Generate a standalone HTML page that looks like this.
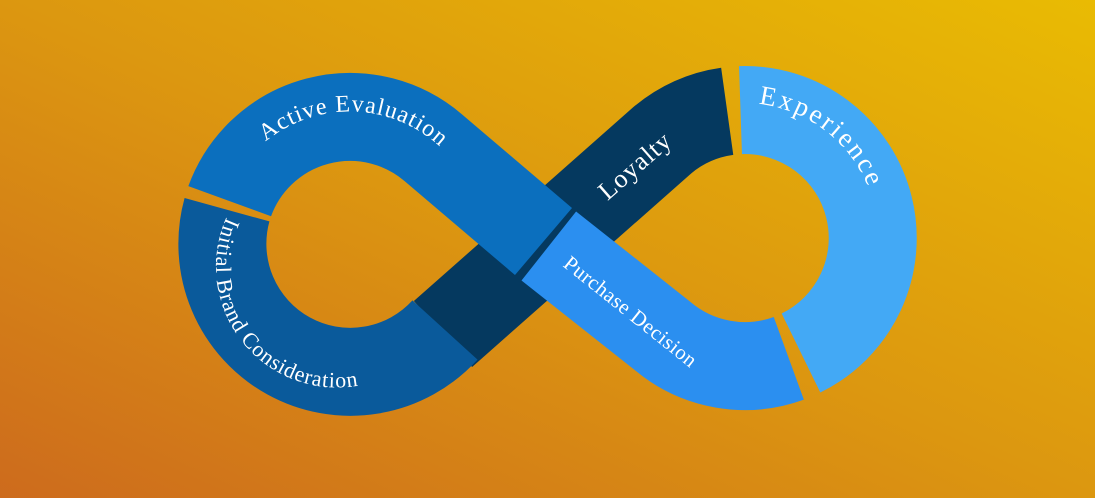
<!DOCTYPE html>
<html><head><meta charset="utf-8"><style>
html,body{margin:0;padding:0;width:1095px;height:498px;overflow:hidden}
svg{display:block}
text{font-family:"Liberation Serif",serif;fill:#fff}
</style></head><body>
<svg width="1095" height="498" viewBox="0 0 1095 498" xmlns="http://www.w3.org/2000/svg">
<defs>
<linearGradient id="bg" x1="0" y1="1" x2="1" y2="0">
<stop offset="0" stop-color="#cd6b1d"/>
<stop offset="0.5" stop-color="#dc9710"/>
<stop offset="1" stop-color="#e9bb03"/>
</linearGradient>
<path id="pAct" d="M229.7,201.2 A128,128 0 0 1 433,147.5 L543.5,241.5"/>
<path id="pIni" d="M227,209.7 A128,128 0 0 0 445,330"/>
<path id="pLoy" d="M443,334 L662,140.5 A128,128 0 0 1 727.2,111.3"/>
<path id="pExp" d="M740.5,110.1 A128,128 0 0 1 801,353"/>
<path id="pPur" d="M548.8,246 L662,335.5 A128,128 0 0 0 788.8,358.3"/>
<path id="tAct" d="M226,196 A133,133 0 0 1 437,144 L552,238"/>
<path id="tIni" d="M230,210 A121,121 0 0 0 440,330"/>
<path id="tLoy" d="M446,343 L669,147"/>
<path id="tExp" d="M740.5,103 A135,135 0 0 1 801,360"/>
<path id="tPur" d="M545,252 L730,400"/>
</defs>
<rect width="1095" height="498" fill="url(#bg)"/>
<g fill="none" stroke-width="88" stroke-linecap="butt">
<use href="#pLoy" stroke="#05395f"/>
<use href="#pIni" stroke="#0a5a9b"/>
<use href="#pExp" stroke="#43a9f5"/>
<use href="#pAct" stroke="#0b6fbe"/>
<use href="#pPur" stroke="#2b8ff0"/>
</g>
<g>
<text font-size="24" letter-spacing="1"><textPath href="#tAct" startOffset="68">Active Evaluation</textPath></text>
<text font-size="22" letter-spacing="0.8"><textPath href="#tIni" startOffset="8">Initial Brand Consideration</textPath></text>
<text font-size="26" letter-spacing="1"><textPath href="#tLoy" startOffset="215">Loyalty</textPath></text>
<text font-size="27" letter-spacing="2.5"><textPath href="#tExp" startOffset="18">Experience</textPath></text>
<text font-size="21" letter-spacing="0.5"><textPath href="#tPur" startOffset="22">Purchase Decision</textPath></text>
</g>
</svg>
</body></html>
